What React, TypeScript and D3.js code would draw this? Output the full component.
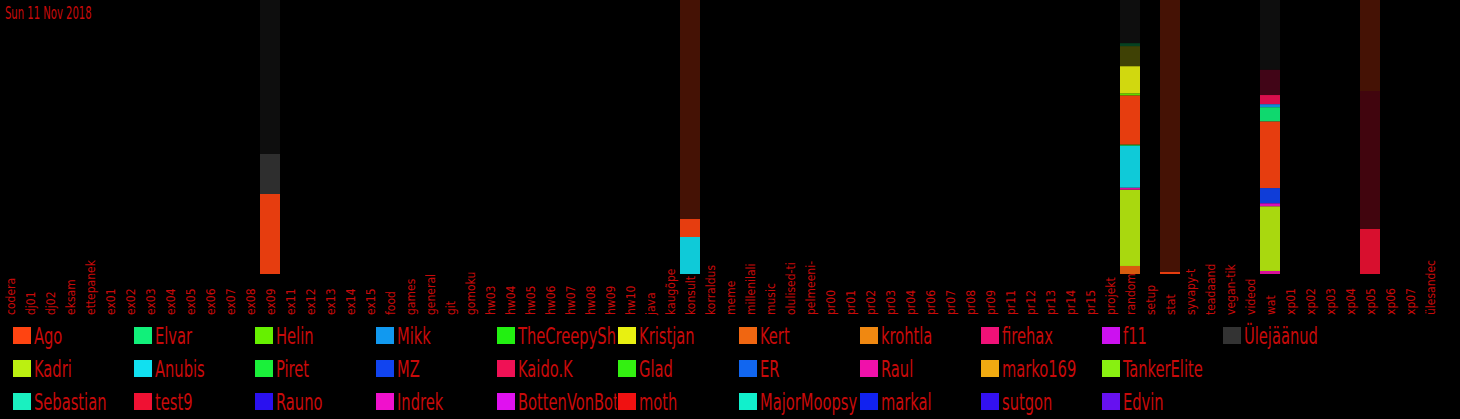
import * as d3 from "d3";

const title = "Sun 11 Nov 2018";

const channels = [
  "codera", "dj01", "dj02", "eksam", "ettepanek", "ex01", "ex02", "ex03", "ex04", "ex05",
  "ex06", "ex07", "ex08", "ex09", "ex11", "ex12", "ex13", "ex14", "ex15", "food",
  "games", "general", "git", "gomoku", "hw03", "hw04", "hw05", "hw06", "hw07", "hw08",
  "hw09", "hw10", "java", "kaugõpe", "konsult", "korraldus", "meme", "millenilali", "music", "olulised-ti",
  "pelmeeni-", "pr00", "pr01", "pr02", "pr03", "pr04", "pr06", "pr07", "pr08", "pr09",
  "pr11", "pr12", "pr13", "pr14", "pr15", "projekt", "random", "setup", "stat", "syvapy-t",
  "teadaand", "vegan-tik", "videod", "wat", "xp01", "xp02", "xp03", "xp04", "xp05", "xp06",
  "xp07", "ülesandec",
];

// legend order (column-major, 3 rows)
const users = [
  "Ago", "Kadri", "Sebastian", "Elvar", "Anubis", "test9", "Helin", "Piret", "Rauno",
  "Mikk", "MZ", "Indrek", "TheCreepySh", "Kaido.K", "BottenVonBot", "Kristjan", "Glad", "moth",
  "Kert", "ER", "MajorMoopsy", "krohtla", "Raul", "markal", "firehax", "marko169", "sutgon",
  "f11", "TankerElite", "Edvin", "Ülejäänud",
];

const userColors = [
  "#ff4411", "#bbf011", "#1af0c0", "#11f07a", "#11e0f0", "#f01133", "#66f000", "#1af03a", "#2a11f0",
  "#1199f0", "#1144f0", "#f011cc", "#22f011", "#f01155", "#e011f0", "#e8f011", "#33f011", "#f01111",
  "#f06611", "#1166f0", "#11f0cc", "#f08811", "#f011aa", "#1122f0", "#f01177", "#f0aa11", "#3311f0",
  "#cc11f0", "#88f011", "#6611f0", "#333333",
];

// [user, value, faded] stacked bottom -> top
type Seg = [string, number, number];
const ex09Stack: Seg[] = [["Ago", 80, 0], ["Ülejäänud", 40, 0], ["Ülejäänud", 154, 1]];
const konsultStack: Seg[] = [["Anubis", 37, 0], ["Ago", 18, 0], ["Ago", 219, 1]];
const randomStack: Seg[] = [
  ["Kert", 8, 0], ["Kadri", 76, 0], ["Raul", 2, 0], ["Anubis", 42, 0], ["Piret", 1, 0],
  ["Ago", 49, 0], ["Helin", 2, 0], ["Kristjan", 27, 0], ["Kristjan", 20, 1], ["Elvar", 3, 1],
  ["Ülejäänud", 43, 1],
];
const statStack: Seg[] = [["Ago", 2, 0], ["Ago", 272, 1]];
const watStack: Seg[] = [
  ["Raul", 3, 0], ["Kadri", 64, 0], ["Indrek", 3, 0], ["MZ", 15, 0], ["Ago", 66, 0],
  ["Elvar", 14, 0], ["Mikk", 3, 0], ["Kaido.K", 9, 0], ["Kaido.K", 25, 1], ["Ülejäänud", 69, 1],
];
const xp05Stack: Seg[] = [["test9", 45, 0], ["test9", 138, 1], ["Ago", 91, 1]];

const stacks: [string, Seg[]][] = [
  ["ex09", ex09Stack],
  ["konsult", konsultStack],
  ["random", randomStack],
  ["stat", statStack],
  ["wat", watStack],
  ["xp05", xp05Stack],
];

const W = 1460;
const H = 419;
const plotBottom = 274;
const red = "#c80a0a";
const font = "'Liberation Sans Narrow', 'Arial Narrow', 'DejaVu Sans Condensed', 'Liberation Sans', sans-serif";

export default function App() {
  const x = d3.scaleBand().domain(channels).range([0, 1440]).padding(0);
  const color = d3.scaleOrdinal<string, string>().domain(users).range(userColors);

  const colX = d3.scaleLinear().domain([0, 1]).range([13, 134]);
  const rowY = d3.scaleLinear().domain([0, 1]).range([327, 360]);

  return (
    <svg
      width={W}
      height={H}
      style={{ position: "absolute", left: 0, top: 0, background: "#000", display: "block" }}
      fontFamily={font}
    >
      <rect width={W} height={H} fill="#000" />

      {stacks.map(([ch, segs]) => {
        const total = d3.sum(segs, (s) => s[1]);
        const y = d3.scaleLinear().domain([0, total]).range([plotBottom, 0]);
        const ends = Array.from(d3.cumsum(segs, (s) => s[1]));
        return (
          <g key={ch}>
            {segs.map((s, i) => {
              const y0 = y(i === 0 ? 0 : ends[i - 1]);
              const y1 = y(ends[i]);
              return (
                <rect
                  key={i}
                  x={x(ch)}
                  width={x.bandwidth()}
                  y={y1}
                  height={y0 - y1}
                  fill={color(s[0])}
                  fillOpacity={s[2] ? 0.27 : 0.9}
                />
              );
            })}
          </g>
        );
      })}

      <text
        transform="translate(5,19) scale(0.62,1)"
        fontSize={18}
        fill={red}
      >
        {title}
      </text>

      {channels.map((c) => (
        <text
          key={c}
          transform={`translate(${(x(c) ?? 0) + x.bandwidth() / 2 + 5},315) rotate(-90)`}
          fontSize={12}
          fill={red}
        >
          {c}
        </text>
      ))}

      <defs>
        {d3.range(11).map((c) => (
          <clipPath id={`lg${c}`} key={c}>
            <rect x={colX(c)} y={315} width={120} height={104} />
          </clipPath>
        ))}
      </defs>

      {users.map((u, i) => {
        const col = Math.floor(i / 3);
        const row = i % 3;
        const lx = colX(col);
        const ly = rowY(row);
        return (
          <g key={u} clipPath={`url(#lg${col})`}>
            <rect x={lx} y={ly} width={18} height={17} fill={color(u)} />
            <text
              transform={`translate(${lx + 21},${ly + 17}) scale(0.71,1)`}
              fontSize={23}
              fill={red}
            >
              {u}
            </text>
          </g>
        );
      })}
    </svg>
  );
}
